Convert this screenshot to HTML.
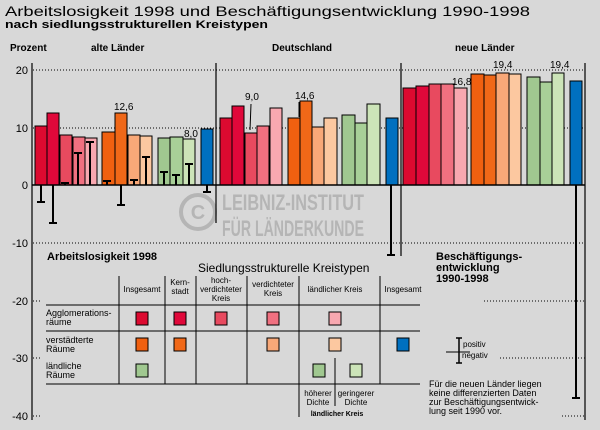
<!DOCTYPE html>
<html><head><meta charset="utf-8"><style>
body{margin:0;background:#d8d8d8}
svg{display:block;font-family:"Liberation Sans",sans-serif}
</style></head><body>
<svg width="600" height="430" viewBox="0 0 600 430" xmlns="http://www.w3.org/2000/svg">
<rect width="600" height="430" fill="#d8d8d8"/>
<text x="5" y="16" font-size="14" textLength="525" lengthAdjust="spacingAndGlyphs" fill="#000">Arbeitslosigkeit 1998 und Beschäftigungsentwicklung 1990-1998</text>
<text x="5" y="28" font-size="11" font-weight="bold" textLength="263" lengthAdjust="spacingAndGlyphs">nach siedlungsstrukturellen Kreistypen</text>
<g font-size="10" font-weight="bold">
<text x="10" y="51">Prozent</text>
<text x="91" y="51">alte Länder</text>
<text x="272" y="51">Deutschland</text>
<text x="455" y="51">neue Länder</text>
</g>
<g fill="#b5b5b5">
<circle cx="198" cy="212" r="17" fill="none" stroke="#b5b5b5" stroke-width="4"/>
<text x="198" y="219" font-size="20" font-weight="bold" text-anchor="middle">C</text>
<text x="222" y="210" font-size="22" font-weight="bold" textLength="142" lengthAdjust="spacingAndGlyphs">LEIBNIZ-INSTITUT</text>
<text x="222" y="236" font-size="22" font-weight="bold" textLength="142" lengthAdjust="spacingAndGlyphs">FÜR LÄNDERKUNDE</text>
</g>
<g stroke="#000" stroke-width="1" stroke-dasharray="1,2">
<line x1="33" y1="70" x2="585" y2="70"/>
<line x1="33" y1="128" x2="585" y2="128"/>
<line x1="33" y1="243" x2="585" y2="243"/>
<line x1="33" y1="301" x2="40" y2="301"/><line x1="484" y1="301" x2="585" y2="301"/>
<line x1="33" y1="358" x2="40" y2="358"/><line x1="500" y1="358" x2="585" y2="358"/>
<line x1="33" y1="416" x2="40" y2="416"/><line x1="562" y1="416" x2="585" y2="416"/>
</g>
<g font-size="11" text-anchor="end">
<text x="28" y="74">20</text><text x="28" y="132">10</text><text x="28" y="189">0</text>
<text x="28" y="247">-10</text><text x="28" y="305">-20</text><text x="28" y="362">-30</text><text x="28" y="420">-40</text>
</g>
<g stroke="#000" stroke-width="1.2">
<line x1="32" y1="63" x2="32" y2="420"/>
<line x1="216" y1="63" x2="216" y2="223"/>
<line x1="401" y1="63" x2="401" y2="256"/>
<line x1="585" y1="63" x2="585" y2="420"/>
</g>
<g stroke="#000" stroke-width="1">
<rect x="35" y="126" width="12" height="59" fill="#dc0a30"/>
<rect x="47" y="113" width="12" height="72" fill="#e0083a"/>
<rect x="60" y="135" width="12" height="50" fill="#e84a5f"/>
<rect x="73" y="137" width="12" height="48" fill="#f07080"/>
<rect x="85" y="138" width="12" height="47" fill="#f8a8b0"/>
<rect x="102" y="132" width="13" height="53" fill="#f06010"/>
<rect x="115" y="113" width="12" height="72" fill="#f06818"/>
<rect x="128" y="135" width="12" height="50" fill="#f8a878"/>
<rect x="140" y="136" width="12" height="49" fill="#fcc8a0"/>
<rect x="158" y="138" width="12" height="47" fill="#a0c890"/>
<rect x="170" y="137" width="13" height="48" fill="#a8d098"/>
<rect x="183" y="139" width="12" height="46" fill="#cce4b8"/>
<rect x="201" y="129" width="12" height="56" fill="#0070c0"/>
<rect x="220" y="118" width="12" height="67" fill="#dc0a30"/>
<rect x="232" y="106" width="12" height="79" fill="#e0083a"/>
<rect x="245" y="133" width="12" height="52" fill="#e84a5f"/>
<rect x="257" y="126" width="12" height="59" fill="#f07080"/>
<rect x="270" y="108" width="12" height="77" fill="#f8a8b0"/>
<rect x="288" y="118" width="12" height="67" fill="#f06010"/>
<rect x="300" y="101" width="12" height="84" fill="#f06818"/>
<rect x="312" y="127" width="12" height="58" fill="#f8a878"/>
<rect x="324" y="118" width="13" height="67" fill="#fcc8a0"/>
<rect x="342" y="115" width="13" height="70" fill="#a0c890"/>
<rect x="355" y="123" width="12" height="62" fill="#a8d098"/>
<rect x="367" y="104" width="13" height="81" fill="#cce4b8"/>
<rect x="386" y="118" width="12" height="67" fill="#0070c0"/>
<rect x="403" y="88" width="13" height="97" fill="#dc0a30"/>
<rect x="416" y="86" width="13" height="99" fill="#e0083a"/>
<rect x="429" y="84" width="12" height="101" fill="#e84a5f"/>
<rect x="441" y="84" width="13" height="101" fill="#f07080"/>
<rect x="454" y="88" width="13" height="97" fill="#f8a8b0"/>
<rect x="471" y="74" width="13" height="111" fill="#f06010"/>
<rect x="484" y="75" width="12" height="110" fill="#f06818"/>
<rect x="496" y="73" width="13" height="112" fill="#f8a878"/>
<rect x="509" y="74" width="12" height="111" fill="#fcc8a0"/>
<rect x="527" y="77" width="13" height="108" fill="#a0c890"/>
<rect x="540" y="82" width="12" height="103" fill="#a8d098"/>
<rect x="552" y="73" width="12" height="112" fill="#cce4b8"/>
<rect x="570" y="81" width="12" height="104" fill="#0070c0"/>
</g>
<line x1="32" y1="185" x2="585" y2="185" stroke="#000" stroke-width="1.5"/>
<g stroke="#000" stroke-width="2">
<path d="M41 185V202M37 202H45"/>
<path d="M53 185V223M49 223H57"/>
<path d="M65 185V183M61 183H69"/>
<path d="M78 185V153M74 153H82"/>
<path d="M90 185V142M86 142H94"/>
<path d="M107 185V181M103 181H111"/>
<path d="M121 185V205M117 205H125"/>
<path d="M134 185V180M130 180H138"/>
<path d="M146 185V157M142 157H150"/>
<path d="M164 185V172M160 172H168"/>
<path d="M176 185V175M172 175H180"/>
<path d="M189 185V164M185 164H193"/>
<path d="M207 185V192M203 192H211"/>
<path d="M391 185V255M387 255H395"/>
<path d="M576 185V398M572 398H580"/>
</g>
<g stroke="#000" stroke-width="1"><line x1="251" y1="104" x2="250" y2="130"/><line x1="299" y1="102" x2="299" y2="117"/></g>
<g font-size="10">
<text x="114" y="110">12,6</text>
<text x="184" y="137">8,0</text>
<text x="245" y="100">9,0</text>
<text x="295" y="99">14,6</text>
<text x="452" y="85">16,8</text>
<text x="493" y="68">19,4</text>
<text x="550" y="68">19,4</text>
</g>
<text x="47" y="260" font-size="11" font-weight="bold">Arbeitslosigkeit 1998</text>
<text x="198" y="272" font-size="12">Siedlungsstrukturelle Kreistypen</text>
<g stroke="#000" stroke-width="1">
<line x1="119" y1="276" x2="119" y2="384"/>
<line x1="165" y1="276" x2="165" y2="384"/>
<line x1="196" y1="276" x2="196" y2="384"/>
<line x1="247" y1="276" x2="247" y2="384"/>
<line x1="299" y1="276" x2="299" y2="417"/>
<line x1="380" y1="276" x2="380" y2="384"/>
<line x1="335" y1="358" x2="335" y2="406"/>
<line x1="46" y1="305" x2="420" y2="305"/>
<line x1="46" y1="331" x2="420" y2="331"/>
<line x1="46" y1="384" x2="420" y2="384"/>
</g>
<g font-size="8" text-anchor="middle">
<text x="142" y="292">Insgesamt</text>
<text x="180" y="285">Kern-</text><text x="180" y="294">stadt</text>
<text x="221" y="283">hoch-</text><text x="221" y="292">verdichteter</text><text x="221" y="301">Kreis</text>
<text x="273" y="287">verdichteter</text><text x="273" y="296">Kreis</text>
<text x="335" y="292">ländlicher Kreis</text>
<text x="403" y="292">Insgesamt</text>
<text x="318" y="396">höherer</text><text x="318" y="405">Dichte</text>
<text x="356" y="396">geringerer</text><text x="356" y="405">Dichte</text>
<text x="337" y="416" font-weight="bold" font-size="7">ländlicher Kreis</text>
</g>
<g font-size="9">
<text x="46" y="316">Agglomerations-</text><text x="46" y="325">räume</text>
<text x="46" y="343">verstädterte</text><text x="46" y="352">Räume</text>
<text x="46" y="369">ländliche</text><text x="46" y="378">Räume</text>
</g>
<g stroke="#000" stroke-width="1">
<rect x="136" y="312" width="12" height="13" fill="#dc0a30"/>
<rect x="174" y="312" width="12" height="13" fill="#e0083a"/>
<rect x="215" y="312" width="12" height="13" fill="#e84a5f"/>
<rect x="267" y="312" width="12" height="13" fill="#f07080"/>
<rect x="329" y="312" width="12" height="13" fill="#f8a8b0"/>
<rect x="136" y="338" width="12" height="13" fill="#f06010"/>
<rect x="174" y="338" width="12" height="13" fill="#f06818"/>
<rect x="267" y="338" width="12" height="13" fill="#f8a878"/>
<rect x="329" y="338" width="12" height="13" fill="#fcc8a0"/>
<rect x="397" y="338" width="12" height="13" fill="#0070c0"/>
<rect x="136" y="364" width="12" height="13" fill="#a0c890"/>
<rect x="313" y="364" width="12" height="13" fill="#a0c890"/>
<rect x="350" y="364" width="12" height="13" fill="#cce4b8"/>
</g>
<g font-size="11" font-weight="bold">
<text x="436" y="260">Beschäftigungs-</text>
<text x="436" y="271">entwicklung</text>
<text x="436" y="282">1990-1998</text>
</g>
<g stroke="#000"><path d="M446 352H470" stroke-width="1"/><path d="M459 338V363M456 338H462M456 363H462" stroke-width="1.5"/></g>
<text x="463" y="347" font-size="8">positiv</text>
<text x="462" y="358" font-size="8">negativ</text>
<g font-size="9">
<text x="429" y="387">Für die neuen Länder liegen</text>
<text x="429" y="396">keine differenzierten Daten</text>
<text x="429" y="405">zur Beschäftigungsentwick-</text>
<text x="429" y="414">lung seit 1990 vor.</text>
</g>
</svg>
</body></html>
